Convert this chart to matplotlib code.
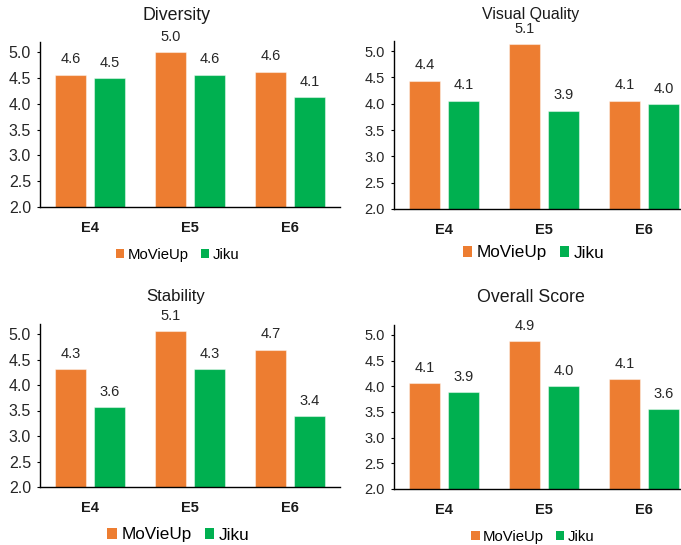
import matplotlib
matplotlib.use("Agg")
import matplotlib.pyplot as plt
from matplotlib.patches import Patch
import numpy as np

plt.rcParams['font.family'] = ['Liberation Sans', 'DejaVu Sans']

# ---- data -------------------------------------------------------------
groups = ["E4", "E5", "E6"]
series = ["MoVieUp", "Jiku"]
titles = ["Diversity", "Visual Quality", "Stability", "Overall Score"]

diversity_movieup = [4.56, 5.00, 4.62]
diversity_jiku = [4.50, 4.56, 4.13]
visual_movieup = [4.44, 5.13, 4.06]
visual_jiku = [4.06, 3.87, 3.99]
stability_movieup = [4.31, 5.06, 4.69]
stability_jiku = [3.57, 4.31, 3.39]
overall_movieup = [4.06, 4.88, 4.14]
overall_jiku = [3.88, 4.00, 3.56]

yticks = [2.0, 2.5, 3.0, 3.5, 4.0, 4.5, 5.0]

# ---- style ------------------------------------------------------------
colors = ["#ED7D31", "#00B050"]
W, H = 681, 545
fig = plt.figure(figsize=(W / 100, H / 100), dpi=100)


def fx(px):
    return px / W


def fy(py):
    return 1 - py / H


# panel boxes in pixels: left, top, right, bottom
panels = [
    dict(box=(40, 41.7, 340, 207), vals=(diversity_movieup, diversity_jiku),
         title=(176, 15, 12.8), legend=(177.5, 255, 10.7), ytick=11.5),
    dict(box=(394, 40.5, 694, 209), vals=(visual_movieup, visual_jiku),
         title=(531, 15, 11.4), legend=(533.5, 253, 12.3), ytick=10.5),
    dict(box=(40, 323.8, 340, 487), vals=(stability_movieup, stability_jiku),
         title=(175.5, 297, 12.1), legend=(178.5, 535, 12.3), ytick=11.5),
    dict(box=(394, 324.7, 694, 489), vals=(overall_movieup, overall_jiku),
         title=(530.5, 297, 12.8), legend=(533, 537, 10.7), ytick=10.5),
]

x = np.arange(len(groups))
bw = 0.31
offsets = [-0.195, 0.195]

for name, p in zip(titles, panels):
    l, t, r, b = p["box"]
    ax = fig.add_axes([fx(l), fy(b), fx(r) - fx(l), fy(t) - fy(b)])
    for vals, off, c in zip(p["vals"], offsets, colors):
        bars = ax.bar(x + off, vals, width=bw, bottom=0, color=c,
                      edgecolor=(1, 1, 1, 0.45), linewidth=0.8, zorder=2)
        for bar, v in zip(bars, vals):
            ax.annotate(f"{v:.1f}", (bar.get_x() + bar.get_width() / 2, v),
                        xytext=(0, 6), textcoords="offset points",
                        ha="center", va="bottom", fontsize=10.5,
                        color="#262626")
    ax.set_xlim(-0.5, 2.5)
    ax.set_ylim(2.0, 5.2)
    ax.set_yticks(yticks)
    ax.set_yticklabels([f"{v:.1f}" for v in yticks], fontsize=p["ytick"],
                       color="#262626")
    ax.set_xticks(x)
    ax.set_xticklabels(groups, fontsize=10.5, fontweight="bold",
                       color="#1a1a1a")
    ax.tick_params(axis="x", length=0, pad=10)
    ax.tick_params(axis="y", length=2.5, width=0.8, pad=4)
    for s in ("top", "right"):
        ax.spines[s].set_visible(False)
    for s in ("left", "bottom"):
        ax.spines[s].set_linewidth(1.0)
        ax.spines[s].set_color("black")

    tx, ty, ts = p["title"]
    fig.text(fx(tx), fy(ty), name, ha="center", va="center", fontsize=ts,
             color="#1a1a1a")

    lx, ly, ls = p["legend"]
    handles = [Patch(facecolor=c, edgecolor="none", label=s)
               for c, s in zip(colors, series)]
    fig.legend(handles=handles, loc="center",
               bbox_to_anchor=(fx(lx), fy(ly)), ncol=2, frameon=False,
               fontsize=ls, handlelength=0.55, handleheight=0.55,
               handletextpad=0.25, columnspacing=0.8, borderpad=0,
               borderaxespad=0)

fig.savefig("out.png", dpi=100)
